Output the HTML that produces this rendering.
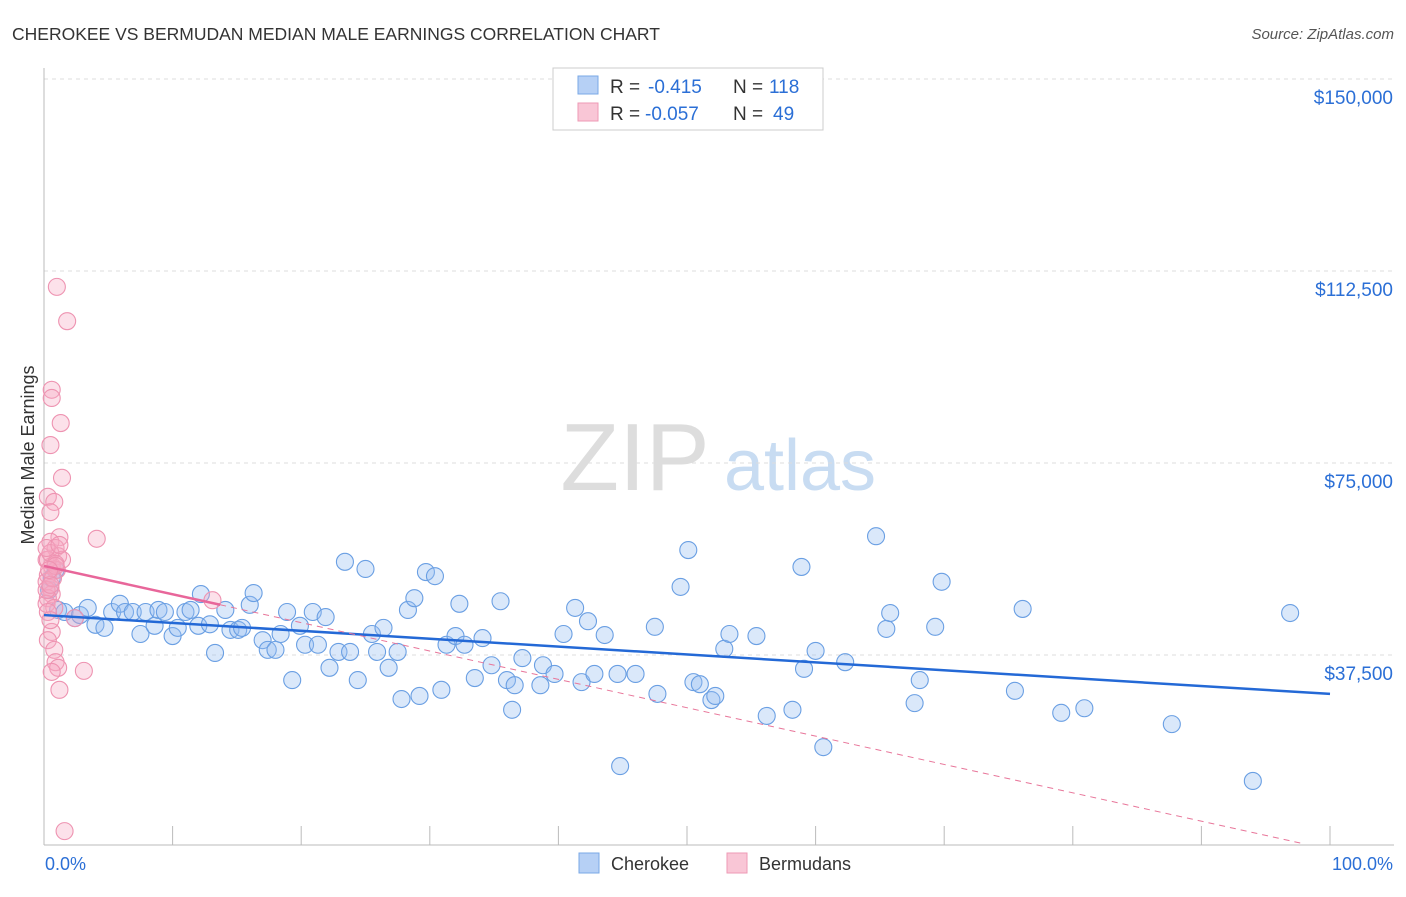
<!DOCTYPE html>
<html><head><meta charset="utf-8"><style>
body{margin:0;background:#fff;font-family:"Liberation Sans",sans-serif}
svg text{font-family:"Liberation Sans",sans-serif}
</style></head><body>
<svg id="c" width="1406" height="892" xmlns="http://www.w3.org/2000/svg">
<text x="12" y="40" font-size="17.5" fill="#333">CHEROKEE VS BERMUDAN MEDIAN MALE EARNINGS CORRELATION CHART</text>
<text x="1394" y="39" font-size="15" fill="#555" font-style="italic" text-anchor="end">Source: ZipAtlas.com</text>
<text x="34" y="455" font-size="18" fill="#333" text-anchor="middle" transform="rotate(-90 34 455)">Median Male Earnings</text>
<g><text x="635" y="490" font-size="96" fill="#ddd" font-family="Liberation Serif" text-anchor="middle">ZIP</text><text x="800" y="490" font-size="72" fill="#c8dcf2" text-anchor="middle">atlas</text></g>
<g id="grid"></g><g id="marks"></g>
<g>
<rect x="553" y="68" width="270" height="62" fill="#fff" stroke="#ccc"/>
<rect x="578" y="76" width="20" height="18" fill="#b6d0f5" stroke="#7aa8e6"/>
<rect x="578" y="103" width="20" height="18" fill="#f9c6d6" stroke="#ee9ab5"/>
<text x="610" y="93" font-size="19" fill="#333">R =</text><text x="648" y="93" font-size="19" fill="#2b6fd6">-0.415</text>
<text x="733" y="93" font-size="19" fill="#333">N =</text><text x="769" y="93" font-size="19" fill="#2b6fd6">118</text>
<text x="610" y="120" font-size="19" fill="#333">R =</text><text x="645" y="120" font-size="19" fill="#2b6fd6">-0.057</text>
<text x="733" y="120" font-size="19" fill="#333">N =</text><text x="773" y="120" font-size="19" fill="#2b6fd6">49</text>
</g>
<g>
<rect x="579" y="853" width="20" height="20" fill="#b6d0f5" stroke="#7aa8e6"/>
<text x="611" y="870" font-size="18" fill="#333">Cherokee</text>
<rect x="727" y="853" width="20" height="20" fill="#f9c6d6" stroke="#ee9ab5"/>
<text x="759" y="870" font-size="18" fill="#333">Bermudans</text>
</g>
</svg>
<script>
const yTicks=[37500,75000,112500,150000];
const yTickLabels=["$37,500","$75,000","$112,500","$150,000"];
const xTickLabels=["0.0%","100.0%"];
const cherX=[0.4,0.6,0.9,1.1,1.6,2.4,2.8,3.4,4.0,4.7,5.3,5.9,6.3,6.9,7.5,7.9,8.6,8.9,9.4,10.0,10.4,11.0,11.4,12.0,12.2,12.9,13.3,14.1,14.5,15.1,15.4,16.0,16.3,17.0,17.4,18.0,18.4,18.9,19.3,19.9,20.3,20.9,21.3,21.9,22.2,22.9,23.4,23.8,24.4,25.0,25.5,25.9,26.4,26.8,27.5,27.8,28.3,28.8,29.2,29.7,30.4,30.9,31.3,32.0,32.3,32.7,33.5,34.1,34.8,35.5,36.0,36.4,36.6,37.2,38.6,38.8,39.7,40.4,41.3,41.8,42.3,42.8,43.6,44.6,44.8,46.0,47.5,47.7,49.5,50.1,50.5,51.0,51.9,52.2,52.9,53.3,55.4,56.2,58.2,58.9,59.1,60.0,60.6,62.3,64.7,65.5,65.8,67.7,68.1,69.3,69.8,75.5,76.1,79.1,80.9,87.7,94.0,96.9];
const cherY=[50.2,52.5,54.1,46.3,45.9,44.7,45.3,46.7,43.4,42.8,45.9,47.5,45.9,45.9,41.6,45.9,43.2,46.3,45.9,41.2,42.8,45.9,46.3,43.2,49.4,43.5,37.9,46.3,42.4,42.4,42.8,47.3,49.6,40.4,38.5,38.5,41.6,45.9,32.6,43.2,39.5,45.9,39.5,44.9,35.0,38.1,55.7,38.1,32.6,54.3,41.6,38.1,42.8,35.0,38.1,28.9,46.3,48.6,29.5,53.7,52.9,30.7,39.5,41.2,47.5,39.5,33.0,40.8,35.5,48.0,32.6,26.8,31.6,36.9,31.6,35.5,33.8,41.6,46.7,32.2,44.1,33.8,41.4,33.8,15.8,33.8,43.0,29.9,50.8,58.0,32.2,31.8,28.7,29.5,38.7,41.6,41.2,25.6,26.8,54.7,34.8,38.3,19.5,36.1,60.7,42.6,45.7,28.1,32.6,43.0,51.8,30.5,46.5,26.2,27.1,24.0,12.9,45.7];
const bermX=[1.0,1.8,0.6,0.6,1.3,0.5,1.4,0.3,0.8,0.5,1.2,4.1,0.5,0.9,1.1,1.4,0.2,0.6,1.0,0.3,0.2,0.5,0.6,0.3,0.2,0.8,13.1,2.4,0.6,0.3,0.8,0.9,1.1,0.6,3.1,1.2,1.6,0.3,0.5,0.9,0.2,0.7,0.3,0.5,0.9,0.5,0.4,0.2,1.2];
const bermY=[109.4,102.7,89.3,87.7,82.8,78.5,72.1,68.4,67.4,65.4,60.5,60.2,59.6,58.4,56.8,56.1,56.1,54.9,54.1,53.1,51.8,50.6,49.4,48.6,47.5,46.7,48.2,44.7,42.0,40.4,38.5,36.1,35.0,34.2,34.4,30.7,3.1,56.1,57.4,55.3,50.2,52.5,45.9,44.3,54.9,51.2,54.1,58.4,59.0];
const cherTrend=[45.3,29.9];
const bermTrend=[54.9,-0.554];
const X=p=>44+p*12.86, Y=k=>847-k*1000/37500*192;
const NS="http://www.w3.org/2000/svg";
function mk(tag,attrs,parent){const e=document.createElementNS(NS,tag);for(const k in attrs)e.setAttribute(k,attrs[k]);parent.appendChild(e);return e;}
const grid=document.getElementById('grid'),marks=document.getElementById('marks');
yTicks.forEach((t,i)=>{
 const l=mk('line',{x1:44,x2:1394,y1:Y(t/1000),y2:Y(t/1000),stroke:'#ddd','stroke-dasharray':'4,4'},grid);
 
 
 const tx=mk('text',{x:1393,y:Y(t/1000)+25,'font-size':19,fill:'#2b6fd6','text-anchor':'end'},grid);tx.textContent=yTickLabels[i];
 
 
});
let ax=mk('line',{x1:44,x2:44,y1:68,y2:845,stroke:'#bbb'},grid);


ax=mk('line',{x1:44,x2:1394,y1:845,y2:845,stroke:'#bbb'},grid);


for(let i=0;i<=10;i++){const t=mk('line',{x1:X(i*10),x2:X(i*10),y1:826,y2:845,stroke:'#bbb'},grid);
 
 }
[[0,'start',45],[100,'end',1393]].forEach((d,i)=>{const t=mk('text',{x:d[2],y:870,'font-size':18,fill:'#2b6fd6','text-anchor':d[1]},grid);t.textContent=xTickLabels[i];
 
 });
cherX.forEach((x,i)=>{const c=mk('circle',{cx:X(x),cy:Y(cherY[i]),r:8.5,fill:'rgba(150,190,240,0.35)',stroke:'#6a9fe3','stroke-width':1.1},marks);
 
 });
bermX.forEach((x,i)=>{const c=mk('circle',{cx:X(x),cy:Y(bermY[i]),r:8.5,fill:'rgba(245,170,195,0.35)',stroke:'#ee93b1','stroke-width':1.1},marks);
 
 });
let tl=mk('line',{x1:X(0),y1:Y(cherTrend[0]),x2:X(100),y2:Y(cherTrend[1]),stroke:'#2469d6','stroke-width':2.5},marks);


const bx=t=>bermTrend[0]+bermTrend[1]*t;
tl=mk('line',{x1:X(13.7),y1:Y(bx(13.7)),x2:X(97.7),y2:Y(bx(97.7)),stroke:'#e8769a','stroke-width':1,'stroke-dasharray':'6,5'},marks);


tl=mk('line',{x1:X(0),y1:Y(bx(0)),x2:X(13.7),y2:Y(bx(13.7)),stroke:'#e8669a','stroke-width':2.5},marks);


</script>
</body></html>
